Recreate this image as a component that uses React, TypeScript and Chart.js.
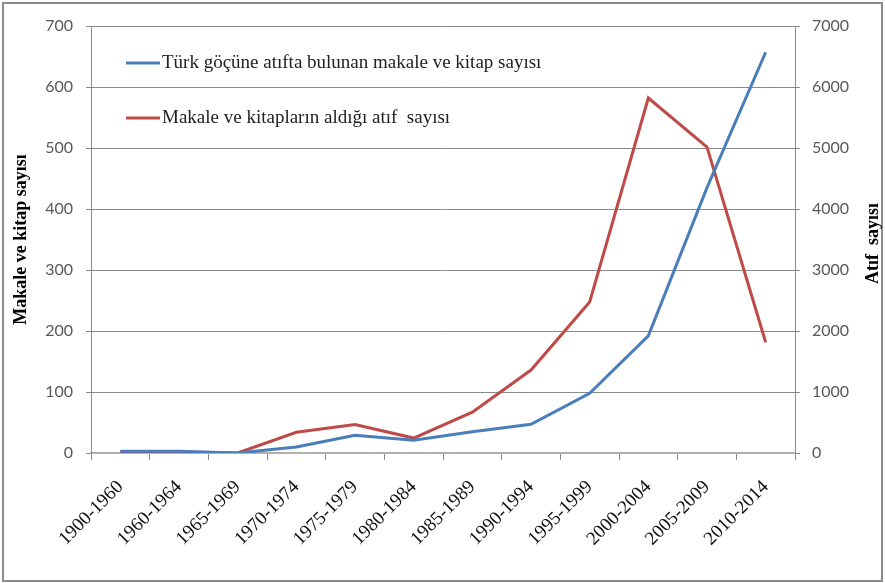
import React, { useEffect, useRef } from "react";
import { Chart, registerables } from "chart.js";

Chart.register(...registerables);

const categories = [
  "1900-1960", "1960-1964", "1965-1969", "1970-1974", "1975-1979", "1980-1984",
  "1985-1989", "1990-1994", "1995-1999", "2000-2004", "2005-2009", "2010-2014",
];
const publications = [3, 3, 0, 10, 29, 21, 35, 47, 98, 192, 435, 657];
const citations = [15, 15, 0, 340, 465, 245, 670, 1360, 2475, 5820, 5016, 1815];
const seriesNames = [
  "Türk göçüne atıfta bulunan makale ve kitap sayısı",
  "Makale ve kitapların aldığı atıf  sayısı",
];
const leftTitle = "Makale ve kitap sayısı";
const rightTitle = "Atıf  sayısı";

const BLUE = "#4A7EBB";
const RED = "#BE4B48";
const GRID = "#8a8a8a";
const TICK = "#595959";
const SERIF = "'Liberation Serif', 'DejaVu Serif', serif";

const decorPlugin = {
  id: "decor",
  beforeDraw(chart: any) {
    const ctx = chart.ctx;
    ctx.save();
    ctx.fillStyle = "#ffffff";
    ctx.fillRect(0, 0, chart.width, chart.height);
    ctx.strokeStyle = "#8c8c8c";
    ctx.lineWidth = 2;
    ctx.strokeRect(3, 3, chart.width - 6, chart.height - 5);
    ctx.restore();
  },
  afterDraw(chart: any) {
    const ctx = chart.ctx;
    const area = chart.chartArea;
    ctx.save();
    // legend
    const ds = chart.data.datasets;
    ctx.font = `19px ${SERIF}`;
    ctx.textBaseline = "middle";
    ctx.textAlign = "left";
    ds.forEach((d: any, i: number) => {
      const y = area.top + 37 + i * 55;
      const x0 = area.left + 35;
      ctx.strokeStyle = d.borderColor;
      ctx.lineWidth = 3;
      ctx.beginPath();
      ctx.moveTo(x0, y);
      ctx.lineTo(x0 + 34, y);
      ctx.stroke();
      ctx.fillStyle = "#222222";
      ctx.fillText(d.label, x0 + 36, y);
    });
    // axis titles
    const cy = (area.top + area.bottom) / 2;
    ctx.font = `bold 18px ${SERIF}`;
    ctx.fillStyle = "#000000";
    ctx.textAlign = "center";
    ctx.save();
    ctx.translate(21, cy);
    ctx.rotate(-Math.PI / 2);
    ctx.fillText(leftTitle, 0, 0);
    ctx.restore();
    ctx.save();
    ctx.translate(873, cy + 4);
    ctx.rotate(-Math.PI / 2);
    ctx.fillText(rightTitle, 0, 0);
    ctx.restore();
    ctx.restore();
  },
};

export default function App() {
  const ref = useRef<HTMLCanvasElement | null>(null);
  useEffect(() => {
    if (!ref.current) return;
    const chart = new Chart(ref.current, {
      type: "line",
      data: {
        labels: categories,
        datasets: [
          {
            label: seriesNames[0],
            data: publications,
            borderColor: BLUE,
            backgroundColor: BLUE,
            borderWidth: 3,
            pointRadius: 0,
            tension: 0,
            yAxisID: "y",
          },
          {
            label: seriesNames[1],
            data: citations,
            borderColor: RED,
            backgroundColor: RED,
            borderWidth: 3,
            pointRadius: 0,
            tension: 0,
            yAxisID: "y1",
          },
        ],
      },
      options: {
        responsive: false,
        animation: false,
        layout: { padding: { top: 26, left: 0, right: 0, bottom: 0 } },
        plugins: { legend: { display: false }, tooltip: { enabled: false } },
        scales: {
          x: {
            offset: true,
            grid: {
              offset: true,
              drawOnChartArea: false,
              drawTicks: true,
              tickLength: 7,
              color: GRID,
            },
            border: { color: "#b0b0b0", width: 2 },
            ticks: {
              autoSkip: false,
              minRotation: 45,
              maxRotation: 45,
              padding: 16,
              color: "#111111",
              font: { family: SERIF, size: 19 },
            },
            afterFit(scale: any) {
              scale.height = 130;
            },
          },
          y: {
            position: "left",
            min: 0,
            max: 700,
            ticks: {
              stepSize: 100,
              padding: 13,
              color: TICK,
              font: { family: "Lato", size: 16 },
              callback: (v: any) => String(v),
            },
            grid: { color: GRID, tickLength: 5 },
            border: { color: GRID },
            afterFit(scale: any) {
              scale.width = 91;
            },
          },
          y1: {
            position: "right",
            min: 0,
            max: 7000,
            ticks: {
              stepSize: 1000,
              padding: 12,
              color: TICK,
              font: { family: "Lato", size: 16 },
              callback: (v: any) => String(v),
            },
            grid: { drawOnChartArea: false, color: GRID, tickLength: 5 },
            border: { color: GRID },
            afterFit(scale: any) {
              scale.width = 90;
            },
          },
        },
      },
      plugins: [decorPlugin],
    } as any);
    return () => chart.destroy();
  }, []);
  return (
    <div style={{ position: "absolute", left: 0, top: 0, width: 885, height: 583 }}>
      <canvas ref={ref} width={885} height={583} style={{ width: 885, height: 583, display: "block" }} />
    </div>
  );
}
